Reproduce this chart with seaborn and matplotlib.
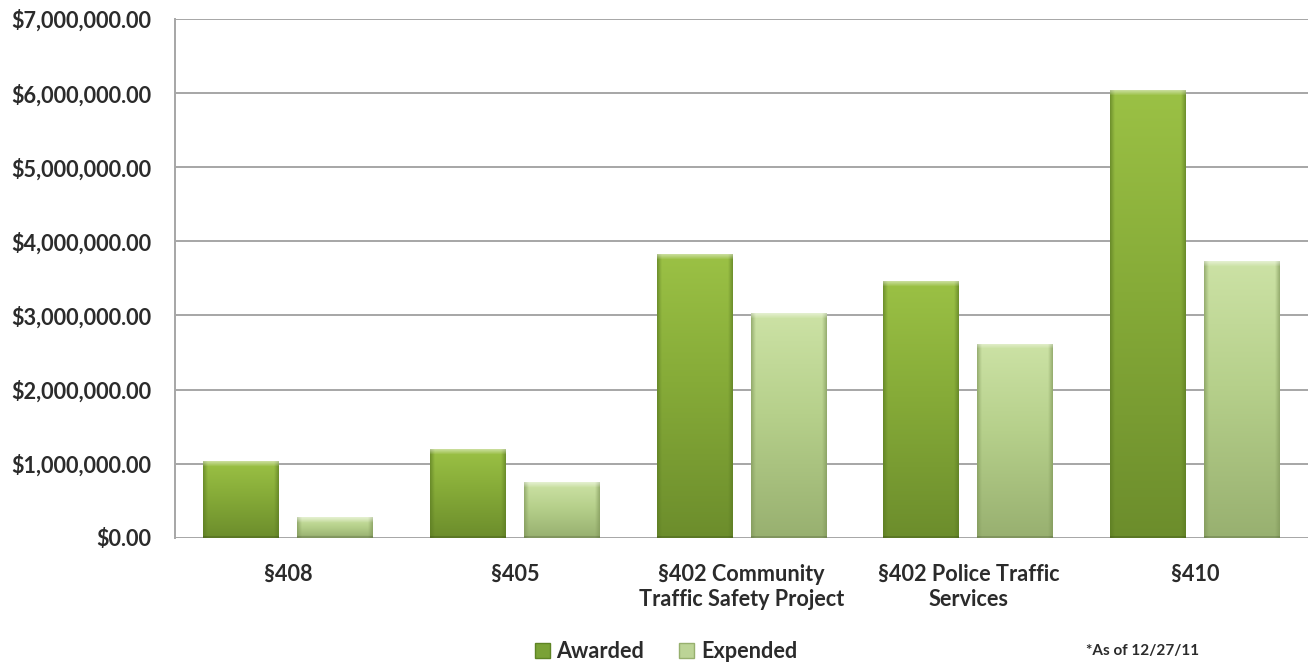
import numpy as np
import pandas as pd
import matplotlib
matplotlib.use("Agg")
import matplotlib.pyplot as plt
from matplotlib.colors import to_rgb
from matplotlib.patches import Patch
from matplotlib.ticker import FuncFormatter, MultipleLocator
import seaborn as sns

categories = ["§408", "§405", "§402 Community\nTraffic Safety Project",
              "§402 Police Traffic\nServices", "§410"]
awarded = [1030000, 1200000, 3830000, 3460000, 6040000]
expended = [280000, 750000, 3030000, 2620000, 3730000]
series = ["Awarded", "Expended"]

df = pd.DataFrame({
    "Program": categories * 2,
    "Series": [series[0]] * len(categories) + [series[1]] * len(categories),
    "Amount": awarded + expended,
})

sns.set_theme(style="white")
plt.rcParams["font.family"] = ["Lato", "DejaVu Sans"]

fig = plt.figure(figsize=(13.11, 6.64), dpi=100)
ax = fig.add_axes([0.1335, 0.19, 0.8645, 0.7814])

base = {"Awarded": "#86ab38", "Expended": "#b5cf8a"}
sns.barplot(data=df, x="Program", y="Amount", hue="Series", hue_order=series,
            palette=base, width=0.83, ax=ax, legend=False, saturation=1)

# vertical shading per bar: light at the top, darker toward the base,
# with a narrow darker rim on the sides and a pale bevel along the top
shades = {
    "Awarded": ("#9bc145", "#86ab38", "#6c8d2c", "#5a7a22"),
    "Expended": ("#cce2a5", "#b6d08b", "#98b070", "#7f9659"),
}
ymax = 7000000
axis_px = 519.0
bar_w = 0.335
n = len(categories)


def face_image(name, hpx, ncols=80):
    top, mid, bot, rim = (np.array(to_rgb(c)) for c in shades[name])
    rows = max(int(hpx), 4)
    tt = np.linspace(0, 1, rows)  # 0 at top, 1 at base
    img_col = np.empty((rows, 3))
    upper = tt < 0.45
    img_col[upper] = top + (mid - top) * (tt[upper] / 0.45)[:, None]
    img_col[~upper] = mid + (bot - mid) * ((tt[~upper] - 0.45) / 0.55)[:, None]
    img = np.repeat(img_col[:, None, :], ncols, axis=1)
    # side rims
    u = np.linspace(0, 1, ncols)
    edge = np.clip(np.minimum(u, 1 - u) / 0.06, 0, 1)
    img = rim + (img - rim) * (0.35 + 0.65 * edge)[None, :, None]
    # pale top bevel about 6 px deep
    bev = min(6, rows)
    fade = np.linspace(0.45, 0.0, bev)[:, None, None]
    img[:bev] = img[:bev] + (1 - img[:bev]) * fade
    # slight darkening along the very base
    img[-2:] = img[-2:] * 0.85
    return np.clip(img, 0, 1)


for i, patch in enumerate(ax.patches[: 2 * n]):
    name = series[i // n]
    cx = patch.get_x() + patch.get_width() / 2
    patch.set_x(cx - bar_w / 2)
    patch.set_width(bar_w)
    patch.set_edgecolor("none")
    h = patch.get_height()
    hpx = h / ymax * axis_px
    im = ax.imshow(face_image(name, hpx), aspect="auto", origin="upper",
                   extent=(cx - bar_w / 2, cx + bar_w / 2, 0, h),
                   zorder=patch.get_zorder() + 0.1, interpolation="bilinear")
    im.set_clip_path(patch)

ax.set_xlim(-0.5, 4.5)
ax.set_ylim(0, ymax)
ax.yaxis.set_major_locator(MultipleLocator(1000000))
ax.yaxis.set_major_formatter(FuncFormatter(lambda v, _: f"${v:,.2f}"))
ax.grid(axis="y", color="#a6a6a6", lw=1.4)
ax.set_axisbelow(True)
for s in ["top", "right", "bottom"]:
    ax.spines[s].set_visible(False)
ax.spines["left"].set_color("#a6a6a6")
ax.spines["left"].set_linewidth(1.4)
ax.tick_params(axis="both", length=0, labelsize=15.6, labelcolor="#2b2b2b")
ax.tick_params(axis="y", pad=17)
ax.tick_params(axis="x", pad=19)
for lbl in ax.get_xticklabels() + ax.get_yticklabels():
    lbl.set_fontweight("bold")
for lbl in ax.get_xticklabels():
    lbl.set_linespacing(1.25)
ax.set_xlabel("")
ax.set_ylabel("")

handles = [Patch(facecolor="#7aa236", edgecolor="#5e8424"),
           Patch(facecolor="#bcd496", edgecolor="#97b06e")]
fig.legend(handles, series, loc="center", bbox_to_anchor=(0.508, 0.019), ncol=2,
           frameon=False, handlelength=0.7, handleheight=0.7, handletextpad=0.3,
           columnspacing=1.6, prop={"size": 15.6, "weight": "bold"}, labelcolor="#2b2b2b")
fig.text(0.828, 0.019, "*As of 12/27/11", fontsize=11, color="#2b2b2b",
         va="center", ha="left", fontweight="bold", fontstretch="condensed")

fig.savefig("out.png", dpi=100, facecolor="white")
